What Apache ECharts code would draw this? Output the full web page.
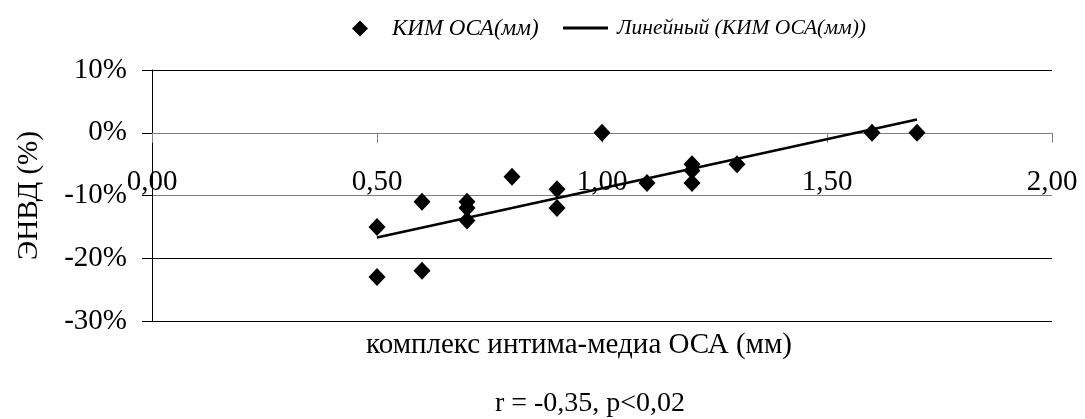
<!DOCTYPE html>
<html>
<head>
<meta charset="utf-8">
<script src="https://cdn.jsdelivr.net/npm/echarts@6/dist/echarts.min.js"></script>
<style>
html,body{margin:0;padding:0;background:#fff;}
#chart{width:1085px;height:419px;}
</style>
</head>
<body>
<div id="chart"></div>
<script>
// Data
const imtValues = [0.5, 0.5, 0.6, 0.6, 0.7, 0.7, 0.7, 0.8, 0.9, 0.9, 1.0, 1.1, 1.2, 1.2, 1.2, 1.3, 1.6, 1.7];
const envdValues = [-15, -23, -11, -22, -11, -12, -14, -7, -9, -12, 0, -8, -5, -6, -8, -5, 0, 0];
const trendX = [0.5, 1.7];
const trendY = [-16.7, 2.1];
const seriesName = 'КИМ ОСА(мм)';
const trendName = 'Линейный (КИМ ОСА(мм))';
const xTitle = 'комплекс интима-медиа ОСА (мм)';
const yTitle = 'ЭНВД (%)';
const note = 'r = -0,35, p<0,02';

const FONT = '"Liberation Serif", "Times New Roman", serif';
const points = imtValues.map((x, i) => [x, envdValues[i]]);
const trend = trendX.map((x, i) => [x, trendY[i]]);

const chart = echarts.init(document.getElementById('chart'), null, {renderer: 'canvas'});
chart.setOption({
  animation: false,
  backgroundColor: '#fff',
  grid: {left: 152, right: 33, top: 70, bottom: 98, containLabel: false},
  legend: [
    {
      data: [{name: seriesName, icon: 'diamond'}],
      left: 347, top: 12, itemWidth: 16, itemHeight: 16,
      textStyle: {fontFamily: FONT, fontStyle: 'italic', fontSize: 23, color: '#000', padding: [0, 0, 0, 19]}
    },
    {
      data: [{name: trendName, icon: 'rect'}],
      left: 558, top: 12, itemWidth: 45, itemHeight: 3,
      textStyle: {fontFamily: FONT, fontStyle: 'italic', fontSize: 21.5, color: '#000', padding: [0, 0, 0, 4]}
    }
  ],
  xAxis: {
    type: 'value', min: 0, max: 2, interval: 0.5,
    position: 'bottom', offset: -188.25,
    axisLine: {show: true, onZero: false, lineStyle: {color: '#808080', width: 1}},
    axisTick: {show: true, length: 10, lineStyle: {color: '#808080'}},
    splitLine: {show: false},
    axisLabel: {
      fontFamily: FONT, fontSize: 29, color: '#000', margin: 35,
      formatter: v => v.toFixed(2).replace('.', ',')
    }
  },
  yAxis: {
    type: 'value', min: -30, max: 10, interval: 10,
    name: yTitle, nameLocation: 'middle', nameGap: 108, nameRotate: 90,
    nameTextStyle: {fontFamily: FONT, fontSize: 29, color: '#000'},
    axisLine: {show: true, onZero: false, lineStyle: {color: '#000', width: 1}},
    axisTick: {show: true, length: 10, lineStyle: {color: '#000'}},
    splitLine: {show: true, showMinLine: true, showMaxLine: true,
      lineStyle: {color: ['#000', '#000', '#808080', '#808080', '#000'], width: 1}},
    axisLabel: {fontFamily: FONT, fontSize: 29, color: '#000', margin: 25, formatter: '{value}%'}
  },
  graphic: [
    {type: 'text', x: 579, y: 345, style: {text: xTitle, font: '29px ' + FONT, fill: '#000', textAlign: 'center', textVerticalAlign: 'middle'}},
    {type: 'text', x: 590, y: 404, style: {text: note, font: '28px ' + FONT, fill: '#000', textAlign: 'center', textVerticalAlign: 'middle'}}
  ],
  series: [
    {
      name: seriesName, type: 'scatter', symbol: 'diamond', symbolSize: [17, 18],
      itemStyle: {color: '#000', opacity: 1}, data: points, z: 3
    },
    {
      name: trendName, type: 'line', data: trend, symbol: 'none', showSymbol: false,
      lineStyle: {color: '#000', width: 2.5}, itemStyle: {color: '#000'}, z: 4
    }
  ]
});
</script>
</body>
</html>
